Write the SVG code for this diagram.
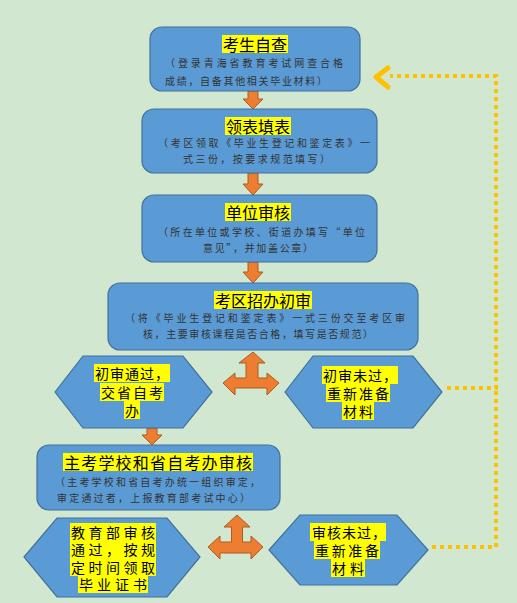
<svg xmlns="http://www.w3.org/2000/svg" width="517" height="603" viewBox="0 0 517 603">
<style>
.box{fill:#5b9bd5;stroke:#41719c;stroke-width:1.2}
.hl{fill:#ffff00}
.t{font-family:"Noto Sans CJK SC","Noto Sans",sans-serif;font-size:16px;fill:#000;text-anchor:middle;dominant-baseline:central}
.h{font-family:"Noto Sans CJK SC","Noto Sans",sans-serif;font-size:14px;fill:#000;text-anchor:middle;dominant-baseline:central}
.s{font-family:"Noto Sans CJK SC","Noto Sans",sans-serif;font-size:10px;fill:#333;dominant-baseline:central}
.arr{fill:#ed7d31;stroke:#ae5a21;stroke-width:1}
.dot{fill:none;stroke:#ffc000;stroke-width:4;stroke-dasharray:4 4}
</style>
<rect width="517" height="603" fill="#d2e7cf"/>
<g id="connectors">
<path class="arr" d="M248 91 H258 V99 H263 L253 109 L243 99 H248 Z"/>
<path class="arr" d="M248 173 H258 V184 H263 L253 195 L243 184 H248 Z"/>
<path class="arr" d="M248 262 H258 V272 H263 L253 283 L243 272 H248 Z"/>
<path class="arr" d="M147 428 H157 V435 H162 L152 445 L142 435 H147 Z"/>
<path class="arr" d="M253 352 L265 363 H258 V378 H267 V373 L279 383 L267 395 V388 H235 V395 L223 383 L235 373 V378 H246 V363 H239 Z"/>
<path class="arr" d="M237 515 L250 527 H242.5 V542 H251 V536 L263 547 L251 559 V553 H220 V559 L208 547 L220 536 V542 H231.5 V527 H224 Z"/>
<path class="dot" d="M447 388 H496 V76 H390"/>
<path class="dot" d="M432 547 H496 V388"/>
<path d="M388 68 L376 77 L388 87" fill="none" stroke="#ffc000" stroke-width="5" stroke-linecap="round" stroke-linejoin="round"/>
</g>
<g id="n1">
<rect class="box" x="150" y="27" width="210" height="64" rx="12"/>
<rect class="hl" x="222" y="35" width="66" height="18"/>
<text class="t" x="255" y="44">考生自查</text>
<text class="s" x="165" y="62" textLength="178" lengthAdjust="spacing">（登录青海省教育考试网查合格</text>
<text class="s" x="165" y="80" textLength="162" lengthAdjust="spacing">成绩，自备其他相关毕业材料）</text>
</g>
<g id="n2">
<rect class="box" x="142" y="109" width="235" height="64" rx="12"/>
<rect class="hl" x="225" y="117" width="66" height="18"/>
<text class="t" x="258" y="126">领表填表</text>
<text class="s" x="158" y="142" textLength="212" lengthAdjust="spacing">（考区领取《毕业生登记和鉴定表》一</text>
<text class="s" x="183" y="158" textLength="147" lengthAdjust="spacing">式三份，按要求规范填写）</text>
</g>
<g id="n3">
<rect class="box" x="142" y="195" width="235" height="67" rx="12"/>
<rect class="hl" x="225" y="203" width="66" height="18"/>
<text class="t" x="258" y="212">单位审核</text>
<text class="s" x="158" y="231" textLength="207" lengthAdjust="spacing">（所在单位或学校、街道办填写“单位</text>
<text class="s" x="203" y="247" textLength="110" lengthAdjust="spacing">意见”，并加盖公章）</text>
</g>
<g id="n4">
<rect class="box" x="108" y="283" width="310" height="67" rx="12"/>
<rect class="hl" x="214" y="291" width="98" height="18"/>
<text class="t" x="263" y="300">考区招办初审</text>
<text class="s" x="125" y="317" textLength="280" lengthAdjust="spacing">（将《毕业生登记和鉴定表》一式三份交至考区审</text>
<text class="s" x="143" y="333" textLength="230" lengthAdjust="spacing">核，主要审核课程是否合格，填写是否规范）</text>
</g>
<g id="n5">
<path class="box" d="M55 392 L83 356 H183 L212 392 L183 428 H83 Z"/>
<rect class="hl" x="94" y="364" width="76" height="18"/>
<rect class="hl" x="100" y="383" width="64" height="18"/>
<rect class="hl" x="124" y="401" width="16" height="18"/>
<text class="h" x="132" y="373" textLength="74" lengthAdjust="spacing">初审通过，</text>
<text class="h" x="132" y="392" textLength="62" lengthAdjust="spacing">交省自考</text>
<text class="h" x="132" y="410">办</text>
</g>
<g id="n6">
<path class="box" d="M285 392 L313 356 H413 L442 392 L413 428 H313 Z"/>
<rect class="hl" x="322" y="366" width="76" height="18"/>
<rect class="hl" x="326" y="384" width="64" height="18"/>
<rect class="hl" x="342" y="402" width="32" height="18"/>
<text class="h" x="360" y="375" textLength="74" lengthAdjust="spacing">初审未过，</text>
<text class="h" x="358" y="393" textLength="62" lengthAdjust="spacing">重新准备</text>
<text class="h" x="358" y="411" textLength="30" lengthAdjust="spacing">材料</text>
</g>
<g id="n7">
<rect class="box" x="37" y="445" width="243" height="65" rx="12"/>
<rect class="hl" x="63" y="453" width="190" height="18"/>
<text class="t" x="158" y="462" textLength="188" lengthAdjust="spacing">主考学校和省自考办审核</text>
<text class="s" x="55" y="481" textLength="205" lengthAdjust="spacing">（主考学校和省自考办统一组织审定，</text>
<text class="s" x="57" y="497" textLength="193" lengthAdjust="spacing">审定通过者，上报教育部考试中心）</text>
</g>
<g id="n8">
<path class="box" d="M24 557 L57 518 H167 L200 557 L167 597 H57 Z"/>
<rect class="hl" x="70" y="523" width="86" height="18"/>
<rect class="hl" x="70" y="540" width="86" height="18"/>
<rect class="hl" x="70" y="558" width="86" height="18"/>
<rect class="hl" x="78" y="575" width="70" height="18"/>
<text class="h" x="113" y="532" textLength="84" lengthAdjust="spacing">教育部审核</text>
<text class="h" x="113" y="549" textLength="84" lengthAdjust="spacing">通过，按规</text>
<text class="h" x="113" y="567" textLength="84" lengthAdjust="spacing">定时间领取</text>
<text class="h" x="113" y="584" textLength="68" lengthAdjust="spacing">毕业证书</text>
</g>
<g id="n9">
<path class="box" d="M269 550 L300 515 H397 L428 550 L397 585 H300 Z"/>
<rect class="hl" x="310" y="523" width="76" height="18"/>
<rect class="hl" x="314" y="541" width="66" height="18"/>
<rect class="hl" x="331" y="559" width="34" height="18"/>
<text class="h" x="349" y="532" textLength="74" lengthAdjust="spacing">审核未过，</text>
<text class="h" x="347" y="550" textLength="64" lengthAdjust="spacing">重新准备</text>
<text class="h" x="348" y="568" textLength="32" lengthAdjust="spacing">材料</text>
</g>
</svg>
